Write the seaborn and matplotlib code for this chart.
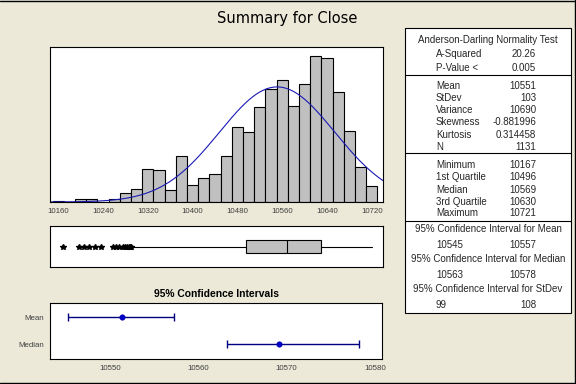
import numpy as np
import matplotlib
matplotlib.use("Agg")
import matplotlib.pyplot as plt
from matplotlib.patches import Rectangle
from matplotlib.lines import Line2D
import seaborn as sns

# histogram of Close, bin midpoints and counts
bin_mids = [10160, 10180, 10200, 10220, 10240, 10260, 10280, 10300, 10320, 10340,
            10360, 10380, 10400, 10420, 10440, 10460, 10480, 10500, 10520, 10540,
            10560, 10580, 10600, 10620, 10640, 10660, 10680, 10700, 10720]
bin_counts = [1, 0, 2, 2, 0, 2, 7, 10, 25, 24,
              9, 35, 13, 18, 21, 35, 57, 53, 72, 86,
              93, 73, 90, 111, 110, 84, 54, 27, 12]
hist_ticks = [10160, 10240, 10320, 10400, 10480, 10560, 10640, 10720]

# summary stats
mean_val = 10551
stdev_val = 103
n_val = 1131

# boxplot
q1, median, q3 = 10496, 10569, 10630
whisker_lo, whisker_hi = 10294, 10721
outliers = [10168, 10198, 10207, 10216, 10225, 10237, 10258, 10263, 10269,
            10275, 10280, 10283, 10286, 10289, 10291]

# 95% confidence intervals
ci_labels = ["Mean", "Median"]
ci_centers = [10551.3, 10569.1]
ci_lows = [10545.2, 10563.2]
ci_highs = [10557.3, 10578.2]
ci_ticks = [10550, 10560, 10570, 10580]

# the stats table on the right
ad_labels = ["A-Squared", "P-Value <"]
ad_values = ["20.26", "0.005"]
desc_labels = ["Mean", "StDev", "Variance", "Skewness", "Kurtosis", "N"]
desc_values = ["10551", "103", "10690", "-0.881996", "0.314458", "1131"]
quart_labels = ["Minimum", "1st Quartile", "Median", "3rd Quartile", "Maximum"]
quart_values = ["10167", "10496", "10569", "10630", "10721"]
ci_titles = ["95% Confidence Interval for Mean",
             "95% Confidence Interval for Median",
             "95% Confidence Interval for StDev"]
ci_table_lo = ["10545", "10563", "99"]
ci_table_hi = ["10557", "10578", "108"]

sns.set_style("white")
plt.rcParams["font.family"] = ["Liberation Sans", "DejaVu Sans"]

W, H = 576, 384
bg = "#ece9d8"
fig = plt.figure(figsize=(W / 100, H / 100), dpi=100, facecolor=bg)


def fx(x):
    return x / W


def fy(y):
    return 1 - y / H


def ftext(x, y, s, **kw):
    fig.text(fx(x), fy(y), s, va="center", **kw)


tick_col = "#404040"

# ---- histogram ----
ax = fig.add_axes([fx(50), fy(202), fx(383) - fx(50), fy(47) - fy(202)])
edges = [m - 10 for m in bin_mids] + [bin_mids[-1] + 10]
sns.histplot(x=bin_mids, weights=bin_counts, bins=edges, color="#c0c0c0",
             edgecolor="black", linewidth=0.8, alpha=1, ax=ax)
xs = np.linspace(10140, 10745, 400)
ys = n_val * 20 * np.exp(-0.5 * ((xs - mean_val) / stdev_val) ** 2) / (stdev_val * np.sqrt(2 * np.pi))
ax.plot(xs, ys, color="#1a1ab4", lw=0.8)
ax.set_xlim(10145.5, 10740)
ax.set_ylim(0, 118)
ax.set_xticks(hist_ticks)
ax.set_xticklabels([str(t) for t in hist_ticks])
ax.set_yticks([])
ax.set_xlabel("")
ax.set_ylabel("")
ax.tick_params(axis="x", labelsize=5.7, colors=tick_col, length=2, width=0.6, pad=2)
for s in ax.spines.values():
    s.set_color("black")
    s.set_linewidth(0.8)

# ---- boxplot ----
bax = fig.add_axes([fx(50), fy(267), fx(383) - fx(50), fy(226) - fy(267)])
bstats = [{"med": median, "q1": q1, "q3": q3, "whislo": whisker_lo,
           "whishi": whisker_hi, "fliers": outliers}]
bax.bxp(bstats, positions=[0], widths=0.68, orientation="horizontal",
        patch_artist=True, showcaps=False,
        boxprops=dict(facecolor="#c0c0c0", edgecolor="black", linewidth=0.8),
        medianprops=dict(color="black", linewidth=0.8),
        whiskerprops=dict(color="black", linewidth=0.8),
        flierprops=dict(marker="*", markersize=4, markerfacecolor="black",
                        markeredgecolor="black", linestyle="none"))
bax.set_xlim(10145.5, 10740)
bax.set_ylim(-1, 1)
bax.set_xticks([])
bax.set_yticks([])
for s in bax.spines.values():
    s.set_color("black")
    s.set_linewidth(0.8)

# ---- confidence intervals ----
cax = fig.add_axes([fx(50), fy(359), fx(382) - fx(50), fy(303) - fy(359)])
ypos = list(range(len(ci_labels)))
err = [np.array(ci_centers) - np.array(ci_lows), np.array(ci_highs) - np.array(ci_centers)]
cax.errorbar(ci_centers, ypos, xerr=err, fmt="none", ecolor="#000080",
             elinewidth=1, capsize=3.2, capthick=1)
sns.scatterplot(x=ci_centers, y=ypos, color="#0000c0", s=16, edgecolor="#0000c0",
                zorder=3, ax=cax)
cax.set_xlim(10543.2, 10580.8)
cax.set_ylim(1.544, -0.53)
cax.set_yticks(ypos)
cax.set_yticklabels(ci_labels)
cax.set_xticks(ci_ticks)
cax.set_xticklabels([str(t) for t in ci_ticks])
cax.tick_params(axis="both", labelsize=5.7, colors=tick_col, length=2, width=0.6, pad=2)
for s in cax.spines.values():
    s.set_color("black")
    s.set_linewidth(0.8)
ftext(216, 294, "95% Confidence Intervals", ha="center", fontsize=7.4,
      fontweight="bold", color="black")

# ---- title ----
ftext(287, 18, "Summary for Close", ha="center", fontsize=10.5,
      family=["DejaVu Sans"], color="black")

# ---- stats table ----
fig.patches.append(Rectangle((fx(405), fy(313)), fx(571) - fx(405), fy(28) - fy(313),
                             transform=fig.transFigure, facecolor="white",
                             edgecolor="black", linewidth=0.8))
for yl in [75, 153, 221]:
    fig.lines.append(Line2D([fx(405), fx(571)], [fy(yl), fy(yl)],
                            transform=fig.transFigure, color="black", lw=0.8))

fs = 7
lx, vx = 436, 536
ftext(488, 40, "Anderson-Darling Normality Test", ha="center", fontsize=fs)
for lab, val, y in zip(ad_labels, ad_values, [54, 68]):
    ftext(lx, y, lab, ha="left", fontsize=fs)
    ftext(vx, y, val, ha="right", fontsize=fs)
for lab, val, y in zip(desc_labels, desc_values, [86, 98, 110, 122, 135, 147]):
    ftext(lx, y, lab, ha="left", fontsize=fs)
    ftext(vx, y, val, ha="right", fontsize=fs)
for lab, val, y in zip(quart_labels, quart_values, [165, 177, 190, 202, 213]):
    ftext(lx, y, lab, ha="left", fontsize=fs)
    ftext(vx, y, val, ha="right", fontsize=fs)
for title, lo, hi, y in zip(ci_titles, ci_table_lo, ci_table_hi, [229, 259, 289]):
    ftext(488, y, title, ha="center", fontsize=fs)
    ftext(lx, y + 16, lo, ha="left", fontsize=fs)
    ftext(vx, y + 16, hi, ha="right", fontsize=fs)

# dark frame on the image edges
for xs_, ys_ in [([0, 1], [0.9985, 0.9985]), ([0.9985, 0.9985], [0, 1]), ([0, 1], [0.0015, 0.0015])]:
    fig.lines.append(Line2D(xs_, ys_, transform=fig.transFigure, color="black", lw=1))

fig.savefig("out.png", dpi=100, facecolor=bg)
